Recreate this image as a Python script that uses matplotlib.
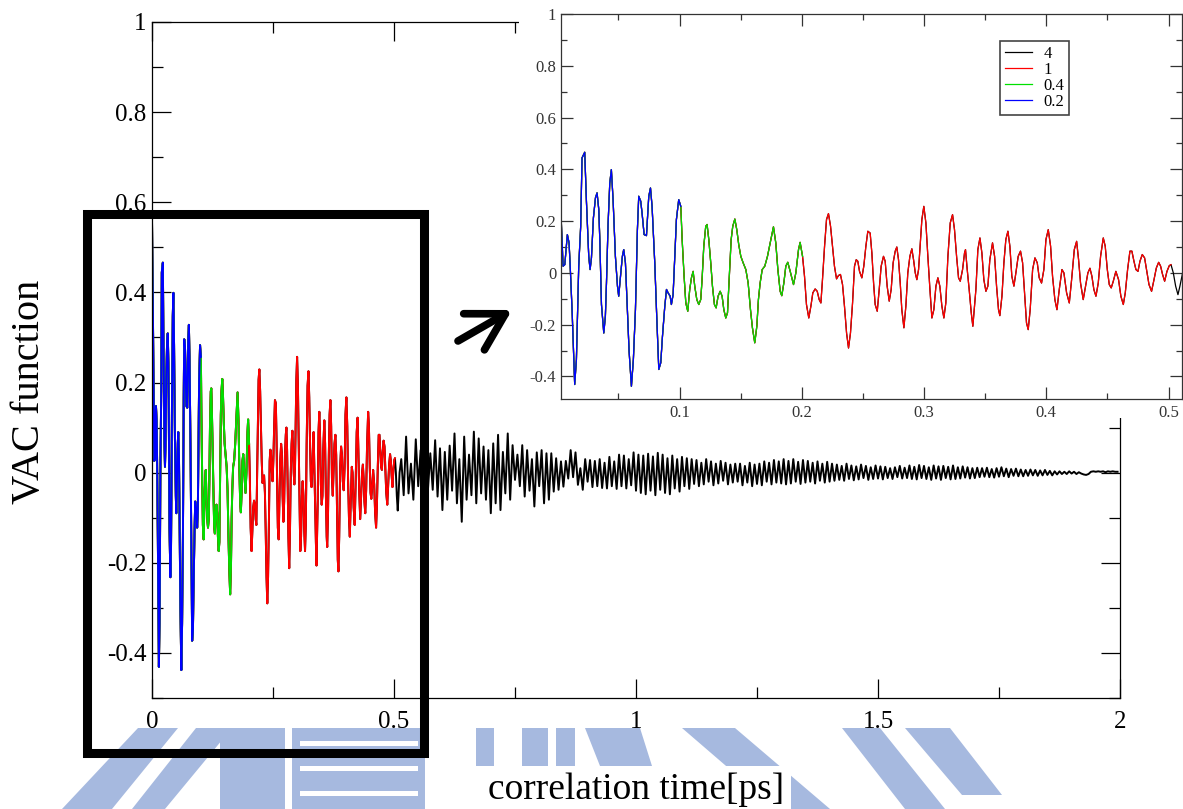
import numpy as np
import matplotlib
matplotlib.use("Agg")
import matplotlib.pyplot as plt
from matplotlib.patches import Rectangle, Polygon, FancyArrowPatch
from matplotlib.ticker import MultipleLocator, FuncFormatter

plt.rcParams['font.family'] = ['Liberation Serif', 'DejaVu Serif']
plt.rcParams['axes.unicode_minus'] = False

# ==========================
# Data
# ==========================
# VAC function, 0 - 0.51 ps
t_short = [
    0.0, 0.0028, 0.0047, 0.0061, 0.0082, 0.0096, 0.0104, 0.0121, 0.0142, 0.0156,
    0.0175, 0.0191, 0.0202, 0.0224, 0.0238, 0.0257, 0.0268, 0.0279, 0.0295, 0.0312,
    0.0325, 0.0339, 0.0347, 0.0361, 0.0380, 0.0393, 0.0402, 0.0415, 0.0429, 0.0442,
    0.0456, 0.0475, 0.0492, 0.0502, 0.0519, 0.0532, 0.0543, 0.0557, 0.0573, 0.0587,
    0.0606, 0.0622, 0.0639, 0.0655, 0.0666, 0.0682, 0.0693, 0.0710, 0.0729, 0.0748,
    0.0762, 0.0775, 0.0797, 0.0813, 0.0830, 0.0846, 0.0860, 0.0879, 0.0893, 0.0906,
    0.0923, 0.0933, 0.0947, 0.0961, 0.0974, 0.0993, 0.1010, 0.1021, 0.1037, 0.1051,
    0.1067, 0.1083, 0.1097, 0.1111, 0.1124, 0.1141, 0.1157, 0.1173, 0.1184, 0.1198,
    0.1214, 0.1225, 0.1239, 0.1255, 0.1269, 0.1285, 0.1299, 0.1315, 0.1332, 0.1348,
    0.1362, 0.1378, 0.1392, 0.1408, 0.1422, 0.1435, 0.1452, 0.1468, 0.1484, 0.1501,
    0.1520, 0.1542, 0.1561, 0.1580, 0.1596, 0.1615, 0.1632, 0.1645, 0.1659, 0.1676,
    0.1697, 0.1719, 0.1733, 0.1768, 0.1787, 0.1804, 0.1823, 0.1836, 0.1853, 0.1869,
    0.1885, 0.1905, 0.1932, 0.1951, 0.1973, 0.1986, 0.2006, 0.2022, 0.2038, 0.2057,
    0.2074, 0.2090, 0.2109, 0.2126, 0.2142, 0.2156, 0.2169, 0.2186, 0.2202, 0.2218,
    0.2235, 0.2251, 0.2267, 0.2284, 0.2300, 0.2316, 0.2333, 0.2349, 0.2366, 0.2382,
    0.2398, 0.2415, 0.2431, 0.2445, 0.2458, 0.2472, 0.2491, 0.2507, 0.2524, 0.2540,
    0.2559, 0.2573, 0.2587, 0.2600, 0.2617, 0.2633, 0.2649, 0.2668, 0.2682, 0.2698,
    0.2715, 0.2731, 0.2747, 0.2764, 0.2777, 0.2791, 0.2805, 0.2818, 0.2835, 0.2851,
    0.2867, 0.2884, 0.2900, 0.2914, 0.2928, 0.2941, 0.2955, 0.2968, 0.2982, 0.2998,
    0.3015, 0.3031, 0.3048, 0.3064, 0.3080, 0.3097, 0.3113, 0.3129, 0.3146, 0.3162,
    0.3178, 0.3195, 0.3214, 0.3233, 0.3249, 0.3266, 0.3282, 0.3296, 0.3315, 0.3331,
    0.3339, 0.3353, 0.3369, 0.3386, 0.3399, 0.3424, 0.3440, 0.3457, 0.3473, 0.3489,
    0.3506, 0.3522, 0.3538, 0.3560, 0.3577, 0.3593, 0.3609, 0.3620, 0.3637, 0.3653,
    0.3669, 0.3686, 0.3702, 0.3718, 0.3735, 0.3751, 0.3770, 0.3789, 0.3806, 0.3822,
    0.3838, 0.3852, 0.3868, 0.3888, 0.3907, 0.3926, 0.3942, 0.3961, 0.3980, 0.3997,
    0.4016, 0.4035, 0.4051, 0.4070, 0.4087, 0.4106, 0.4128, 0.4144, 0.4166, 0.4188,
    0.4207, 0.4229, 0.4248, 0.4264, 0.4280, 0.4302, 0.4321, 0.4340, 0.4357, 0.4373,
    0.4389, 0.4406, 0.4425, 0.4444, 0.4466, 0.4482, 0.4499, 0.4515, 0.4531, 0.4548,
    0.4569, 0.4591, 0.4610, 0.4630, 0.4646, 0.4665, 0.4684, 0.4700, 0.4717, 0.4733,
    0.4750, 0.4766, 0.4785, 0.4804, 0.4820, 0.4840, 0.4861, 0.4881, 0.4900, 0.4919,
    0.4935, 0.4951, 0.4968, 0.4987, 0.5006, 0.5020, 0.5039, 0.5058, 0.5077, 0.5093,
    0.5115,
]
vac_short = [
    0.560, 0.251, 0.026, 0.032, 0.148, 0.116, 0.039, -0.148, -0.431, -0.335,
    0.026, 0.180, 0.444, 0.466, 0.277, 0.064, 0.013, 0.058, 0.212, 0.290,
    0.309, 0.245, 0.135, -0.122, -0.232, -0.167, -0.039, 0.187, 0.347, 0.399,
    0.283, 0.064, -0.051, -0.090, 0.000, 0.064, 0.090, 0.039, -0.142, -0.302,
    -0.438, -0.335, -0.142, 0.167, 0.296, 0.277, 0.232, 0.148, 0.144, 0.296,
    0.328, 0.257, 0.039, -0.167, -0.373, -0.347, -0.245, -0.129, -0.064, -0.077,
    -0.090, -0.122, -0.084, 0.064, 0.206, 0.283, 0.257, 0.129, -0.013, -0.116,
    -0.148, -0.064, -0.019, 0.006, -0.051, -0.103, -0.122, -0.103, -0.026, 0.103,
    0.180, 0.187, 0.129, 0.039, -0.051, -0.122, -0.135, -0.090, -0.071, -0.090,
    -0.142, -0.174, -0.154, 0.000, 0.129, 0.180, 0.208, 0.167, 0.109, 0.064,
    0.039, 0.013, -0.039, -0.142, -0.212, -0.270, -0.206, -0.103, -0.039, 0.013,
    0.026, 0.064, 0.097, 0.178, 0.116, 0.013, -0.071, -0.088, -0.039, 0.026,
    0.041, 0.006, -0.045, 0.000, 0.090, 0.118, 0.064, -0.013, -0.122, -0.174,
    -0.129, -0.077, -0.062, -0.071, -0.103, -0.116, -0.026, 0.103, 0.206, 0.229,
    0.180, 0.103, 0.026, -0.023, -0.010, -0.006, -0.045, -0.129, -0.232, -0.290,
    -0.232, -0.116, 0.026, 0.051, 0.045, 0.006, -0.019, 0.026, 0.103, 0.161,
    0.154, 0.077, -0.039, -0.122, -0.148, -0.064, 0.026, 0.064, 0.045, -0.051,
    -0.109, -0.064, 0.039, 0.084, 0.100, 0.051, -0.039, -0.142, -0.212, -0.129,
    0.000, 0.064, 0.093, 0.051, 0.000, -0.026, 0.013, 0.103, 0.206, 0.257,
    0.193, 0.064, -0.064, -0.174, -0.142, -0.051, -0.019, -0.051, -0.129, -0.174,
    -0.116, 0.064, 0.193, 0.225, 0.167, 0.064, -0.019, -0.032, 0.013, 0.077,
    0.090, 0.013, -0.064, -0.154, -0.206, -0.064, 0.090, 0.135, 0.077, -0.026,
    -0.071, -0.051, 0.051, 0.116, 0.064, -0.051, -0.142, -0.165, -0.090, 0.039,
    0.129, 0.161, 0.103, -0.013, -0.051, 0.000, 0.064, 0.084, 0.039, -0.077,
    -0.193, -0.219, -0.142, 0.013, 0.058, 0.039, -0.019, -0.039, 0.013, 0.129,
    0.167, 0.103, -0.013, -0.103, -0.142, -0.064, 0.013, 0.000, -0.077, -0.116,
    -0.026, 0.090, 0.122, 0.051, -0.039, -0.103, -0.051, 0.000, 0.018, -0.013,
    -0.064, -0.090, -0.039, 0.064, 0.135, 0.103, 0.013, -0.045, -0.058, -0.032,
    0.006, -0.026, -0.090, -0.122, -0.077, 0.013, 0.084, 0.084, 0.045, 0.013,
    0.006, 0.045, 0.071, 0.058, 0.013, -0.045, -0.071, -0.026, 0.019, 0.041,
    0.026, -0.006, -0.032, 0.006, 0.028, 0.032, 0.000, -0.051, -0.084, -0.051,
    0.000,
]

# tail of the curve, one extremum every 0.005 ps from 0.515 ps
tail_start = 0.515
tail_step = 0.005
vac_tail = [
    0.030, -0.050, 0.080, -0.046, 0.020, -0.060, 0.074, -0.030, 0.050, -0.070,
    0.060, -0.040, 0.043, -0.038, 0.072, -0.053, 0.054, -0.083, 0.046, -0.060,
    0.060, -0.040, 0.087, -0.068, 0.030, -0.109, 0.080, -0.060, 0.040, -0.050,
    0.091, -0.068, 0.076, -0.046, 0.058, -0.060, 0.050, -0.090, 0.065, -0.068,
    0.084, -0.083, 0.046, -0.046, 0.087, -0.060, 0.061, -0.016, 0.040, -0.030,
    0.061, -0.053, 0.050, -0.040, 0.030, -0.075, 0.045, -0.030, 0.050, -0.068,
    0.043, -0.060, 0.043, -0.042, 0.032, -0.038, 0.025, -0.031, 0.026, -0.013,
    0.050, -0.010, 0.045, -0.027, 0.010, -0.038, 0.030, -0.020, 0.028, -0.032,
    0.026, -0.030, 0.030, -0.034, 0.022, -0.035, 0.035, -0.030, 0.025, -0.036,
    0.040, -0.030, 0.038, -0.035, 0.030, -0.028, 0.045, -0.040, 0.040, -0.045,
    0.038, -0.048, 0.042, -0.040, 0.036, -0.050, 0.044, -0.038, 0.040, -0.045,
    0.032, -0.048, 0.038, -0.035, 0.030, -0.042, 0.035, -0.030, 0.032, -0.036,
    0.030, -0.025, 0.028, -0.030, 0.022, -0.026, 0.030, -0.020, 0.025, -0.028,
    0.020, -0.024, 0.026, -0.018, 0.022, -0.026, 0.018, -0.022, 0.020, -0.020,
    0.020, -0.028, 0.015, -0.022, 0.022, -0.030, 0.018, -0.025, 0.020, -0.028,
    0.025, -0.020, 0.022, -0.026, 0.028, -0.022, 0.025, -0.024, 0.030, -0.026,
    0.026, -0.024, 0.030, -0.020, 0.024, -0.025, 0.028, -0.022, 0.026, -0.020,
    0.022, -0.024, 0.025, -0.018, 0.020, -0.022, 0.024, -0.020, 0.020, -0.018,
    0.018, -0.016, 0.015, -0.018, 0.020, -0.014, 0.016, -0.017, 0.014, -0.015,
    0.018, -0.012, 0.015, -0.016, 0.012, -0.014, 0.016, -0.013, 0.014, -0.015,
    0.013, -0.012, 0.010, -0.014, 0.012, -0.010, 0.015, -0.013, 0.011, -0.012,
    0.016, -0.014, 0.013, -0.015, 0.017, -0.012, 0.015, -0.014, 0.012, -0.016,
    0.016, -0.013, 0.014, -0.016, 0.015, -0.012, 0.013, -0.015, 0.016, -0.014,
    0.012, -0.013, 0.014, -0.011, 0.012, -0.013, 0.010, -0.012, 0.011, -0.010,
    0.010, -0.009, 0.011, -0.010, 0.008, -0.011, 0.010, -0.009, 0.012, -0.008,
    0.009, -0.010, 0.008, -0.007, 0.009, -0.008, 0.007, -0.008, 0.006, -0.007,
    0.007, -0.006, 0.006, -0.007, 0.005, -0.006, 0.006, -0.005, 0.004, -0.006,
    0.003, -0.004, 0.003, -0.003, 0.002, -0.003, 0.003, -0.002, 0.002, -0.003,
    0.001, -0.002, -0.004, -0.005, -0.003, 0.002, 0.003, 0.002, 0.003, 0.002,
    0.003, 0.001, 0.003, 0.002, 0.003, 0.002, 0.002,
]

series_labels = ['4', '1', '0.4', '0.2']
series_colors = ['black', '#ff0000', '#00e000', '#0000ff']
series_tmax = [2.0, 0.5, 0.2, 0.1]

# full curve
t_tail = tail_start + tail_step * np.arange(len(vac_tail))
t_all = np.concatenate([np.array(t_short), t_tail])
vac_all = np.concatenate([np.array(vac_short), np.array(vac_tail)])

W, H = 1183, 809


def fx(x):
    return x / W


def fy(y):
    return 1 - y / H


fig = plt.figure(figsize=(W / 100, H / 100), dpi=100)

# ==========================
# Watermark (light blue, behind everything)
# ==========================
wm_color = '#a6b9df'
wm_shapes = [
    [(62, 809), (112, 809), (178, 728), (138, 728)],
    [(132, 809), (165, 809), (232, 728), (196, 728)],
    [(220, 809), (285, 809), (285, 728), (220, 728)],
    [(476, 766), (494, 766), (494, 728), (476, 728)],
    [(522, 766), (548, 766), (548, 728), (522, 728)],
    [(556, 766), (575, 766), (575, 728), (556, 728)],
    [(585, 728), (640, 728), (652, 766), (600, 766)],
    [(682, 728), (735, 728), (830, 809), (776, 809)],
    [(842, 728), (880, 728), (945, 809), (905, 809)],
    [(905, 728), (950, 728), (1002, 795), (962, 795)],
]
for shp in wm_shapes:
    fig.add_artist(Polygon([(fx(a), fy(b)) for a, b in shp], closed=True,
                           transform=fig.transFigure, facecolor=wm_color,
                           edgecolor='none', zorder=-2))
# striped box
fig.add_artist(Rectangle((fx(292), fy(809)), fx(425) - fx(292), fy(728) - fy(809),
                         transform=fig.transFigure, facecolor=wm_color,
                         edgecolor='none', zorder=-2))
for ys in [741, 766, 791]:
    fig.add_artist(Rectangle((fx(300), fy(ys + 5)), fx(418) - fx(300), fy(ys) - fy(ys + 5),
                             transform=fig.transFigure, facecolor='white',
                             edgecolor='none', zorder=-1.5))

fmt = FuncFormatter(lambda v, p: '%g' % (round(v, 3) + 0.0))


def style(ax, major_len, minor_len, size, xpad, ypad, color, lw):
    ax.tick_params(which='both', direction='in', top=True, right=True,
                   colors=color, width=lw)
    ax.tick_params(which='major', length=major_len)
    ax.tick_params(which='minor', length=minor_len)
    ax.tick_params(axis='x', labelsize=size, pad=xpad)
    ax.tick_params(axis='y', labelsize=size, pad=ypad)
    for s in ax.spines.values():
        s.set_linewidth(lw)
        s.set_color(color)
    ax.xaxis.set_major_formatter(fmt)
    ax.yaxis.set_major_formatter(fmt)


# ==========================
# Main plot
# ==========================
ax = fig.add_axes([fx(152), fy(698), fx(1120) - fx(152), fy(22) - fy(698)], zorder=0)
for lab, col, tm in zip(series_labels, series_colors, series_tmax):
    m = t_all <= tm + 0.002
    ax.plot(t_all[m], vac_all[m], color=col, lw=1.4)
ax.set_xlim(0, 2)
ax.set_ylim(-0.5, 1)
ax.xaxis.set_major_locator(MultipleLocator(0.5))
ax.xaxis.set_minor_locator(MultipleLocator(0.25))
ax.yaxis.set_major_locator(MultipleLocator(0.2))
ax.yaxis.set_minor_locator(MultipleLocator(0.1))
style(ax, 14, 8, 18, 9, 4, 'black', 0.9)

ax.set_xlabel('correlation time[ps]', fontsize=27,
              bbox=dict(facecolor='white', edgecolor='none', pad=5))
ax.xaxis.label.set_va('center')
ax.xaxis.set_label_coords(0.5, (698 - 790) / 676)
ax.set_ylabel('VAC function', fontsize=29)
ax.yaxis.label.set_va('center')
ax.yaxis.set_label_coords((30 - 152) / 968, (698 - 392) / 676)

# white backing of the inset
fig.add_artist(Rectangle((fx(519), fy(418)), 1 - fx(519), 1 - fy(418),
                         transform=fig.transFigure, facecolor='white',
                         edgecolor='none', zorder=1))

# ==========================
# Inset (zoom on 0 - 0.5 ps)
# ==========================
ins = fig.add_axes([fx(561), fy(399), fx(1182) - fx(561), fy(14) - fy(399)], zorder=2)
for lab, col, tm in zip(series_labels, series_colors, series_tmax):
    m = t_all <= tm + 0.002
    ins.plot(t_all[m], vac_all[m], color=col, lw=0.9, label=lab)
ins.set_xlim(0.003, 0.511)
ins.set_ylim(-0.487, 1.0)
ins.xaxis.set_major_locator(MultipleLocator(0.1))
ins.xaxis.set_minor_locator(MultipleLocator(0.05))
ins.yaxis.set_major_locator(MultipleLocator(0.2))
ins.yaxis.set_minor_locator(MultipleLocator(0.1))
style(ins, 8.5, 4.5, 12, 4, 3.5, '#333333', 0.9)
leg = ins.legend(loc='upper left', bbox_to_anchor=(0.707, 0.930), borderaxespad=0,
                 fontsize=12, frameon=True, fancybox=False, framealpha=1,
                 handlelength=1.6, handletextpad=0.7, labelspacing=0.0,
                 borderpad=0.3)
leg.get_frame().set_edgecolor('#444444')
leg.get_frame().set_linewidth(1.2)

# ==========================
# Highlight box and arrow
# ==========================
fig.add_artist(Rectangle((fx(86.5), fy(752.5)), fx(423.5) - fx(86.5), fy(213.5) - fy(752.5),
                         transform=fig.transFigure, facecolor='none',
                         edgecolor='black', lw=6.5, joinstyle='miter', zorder=5))
fig.add_artist(FancyArrowPatch((fx(458), fy(341)), (fx(512), fy(310)),
                               transform=fig.transFigure,
                               arrowstyle='->,head_length=1.3,head_width=0.75',
                               mutation_scale=20, lw=5.5, color='black',
                               capstyle='round', shrinkA=0, shrinkB=0, zorder=5))

fig.savefig('out.png', dpi=100)
